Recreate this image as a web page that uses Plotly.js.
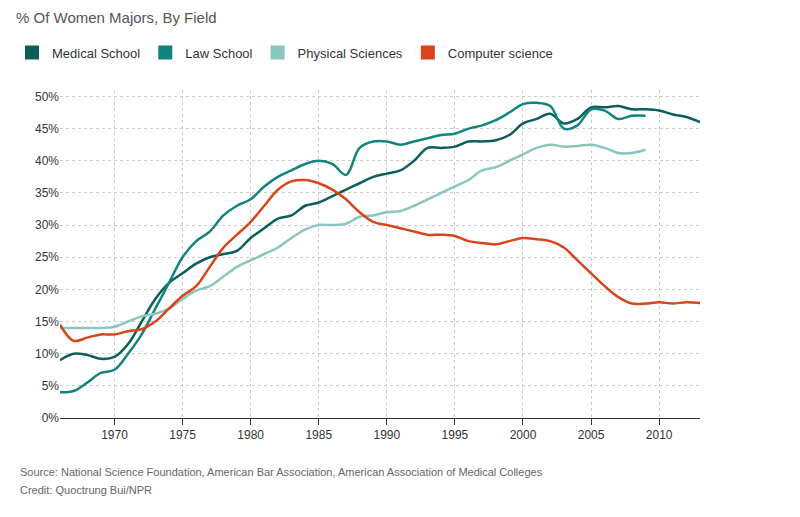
<!DOCTYPE html>
<html>
<head>
<meta charset="utf-8">
<script src="https://cdn.plot.ly/plotly-3.0.1.min.js"></script>
<style>body{margin:0;background:#fff}#chart{width:800px;height:517px}</style>
</head>
<body>
<div id="chart"></div>
<script>
// Years 1966..2013
const years = [];
for (let y = 1966; y <= 2013; y++) years.push(y);

const medical = [9, 10, 9.8, 9.2, 9.5, 11.5, 15, 18.5, 21, 22.5, 24, 25, 25.5, 26, 28, 29.5, 31, 31.5, 33, 33.5,
    34.5, 35.5, 36.5, 37.5, 38, 38.5, 40, 42, 42, 42.2, 43, 43, 43.2, 44, 45.8, 46.5, 47.3, 45.8, 46.5, 48.3,
    48.3, 48.5, 48, 48, 47.8, 47.2, 46.8, 46];
const law = [4, 4.2, 5.5, 7, 7.5, 10, 13, 17, 21, 25, 27.5, 29, 31.5, 33, 34, 36, 37.5, 38.5, 39.5, 40,
    39.5, 37.8, 42, 43, 43, 42.5, 43, 43.5, 44, 44.2, 45, 45.5, 46.3, 47.5, 48.8, 49, 48.5, 45, 45.5, 48,
    47.8, 46.5, 47, 47];
const physical = [14, 14, 14, 14, 14.2, 15, 15.8, 16.2, 17, 18.5, 19.8, 20.5, 22, 23.5, 24.5, 25.5, 26.5, 28, 29.3, 30,
    30, 30.2, 31.3, 31.5, 32, 32.2, 33, 34, 35, 36, 37, 38.5, 39, 40, 41, 42, 42.5, 42.2, 42.3, 42.5,
    42, 41.2, 41.2, 41.7];
const compsci = [14.5, 12, 12.5, 13, 13, 13.5, 13.8, 15, 17, 19, 20.5, 23.5, 26.5, 28.5, 30.5, 33, 35.5, 36.8, 37, 36.5,
    35.5, 34, 32, 30.5, 30, 29.5, 29, 28.5, 28.5, 28.3, 27.5, 27.2, 27, 27.5, 28, 27.8, 27.5, 26.5, 24.5, 22.5,
    20.5, 18.8, 17.8, 17.8, 18, 17.8, 18, 17.9];

const yTicks = [0, 5, 10, 15, 20, 25, 30, 35, 40, 45, 50];
const yTickText = yTicks.map(v => v + '%');

const names = ['Medical School', 'Law School', 'Physical Sciences', 'Computer science'];
const colors = ['#0b5e58', '#11847e', '#8cc4c0', '#d8441c'];
const series = [medical, law, physical, compsci];

const traces = [];
series.forEach((vals, i) => {
    traces.push({
        type: 'scatter', mode: 'lines', name: names[i],
        x: years.slice(0, vals.length), y: vals,
        line: { color: colors[i], width: 2.5, shape: 'spline', smoothing: 1 },
        showlegend: false, hoverinfo: 'x+y'
    });
});
// square swatches for the legend
names.forEach((n, i) => {
    traces.push({
        type: 'scatter', mode: 'markers', name: n, x: [null], y: [null],
        marker: { symbol: 'square', size: 14, color: colors[i] }
    });
});

Plotly.newPlot('chart', traces, {
    width: 800, height: 517,
    paper_bgcolor: '#fff', plot_bgcolor: '#fff',
    font: { family: 'Helvetica, Arial, Liberation Sans, sans-serif', color: '#333', size: 12 },
    margin: { l: 58, r: 100, t: 90, b: 99 },
    title: { text: '% Of Women Majors, By Field', x: 0.02, xanchor: 'left', y: 0.975, font: { size: 15, color: '#555' } },
    legend: { orientation: 'h', x: -0.075, y: 1.16, xanchor: 'left', font: { size: 13, color: '#333' },
        itemwidth: 30 },
    xaxis: {
        range: [1966, 2013], tickvals: [1970, 1975, 1980, 1985, 1990, 1995, 2000, 2005, 2010],
        showgrid: true, gridcolor: '#ccc', griddash: 'dot', zeroline: false,
        showline: true, linecolor: '#333', ticks: 'outside', ticklen: 6, tickcolor: '#333',
        tickfont: { size: 12, color: '#333' }
    },
    yaxis: {
        range: [0, 51], tickvals: yTicks, ticktext: yTickText,
        showgrid: true, gridcolor: '#ccc', griddash: 'dot', zeroline: false,
        tickfont: { size: 12, color: '#333' }
    },
    annotations: [
        { text: 'Source: National Science Foundation, American Bar Association, American Association of Medical Colleges',
          xref: 'paper', yref: 'paper', x: -0.065, y: -0.19, xanchor: 'left', showarrow: false, font: { size: 11, color: '#666' } },
        { text: 'Credit: Quoctrung Bui/NPR',
          xref: 'paper', yref: 'paper', x: -0.065, y: -0.245, xanchor: 'left', showarrow: false, font: { size: 11, color: '#666' } }
    ]
}, { displayModeBar: false });
</script>
</body>
</html>
